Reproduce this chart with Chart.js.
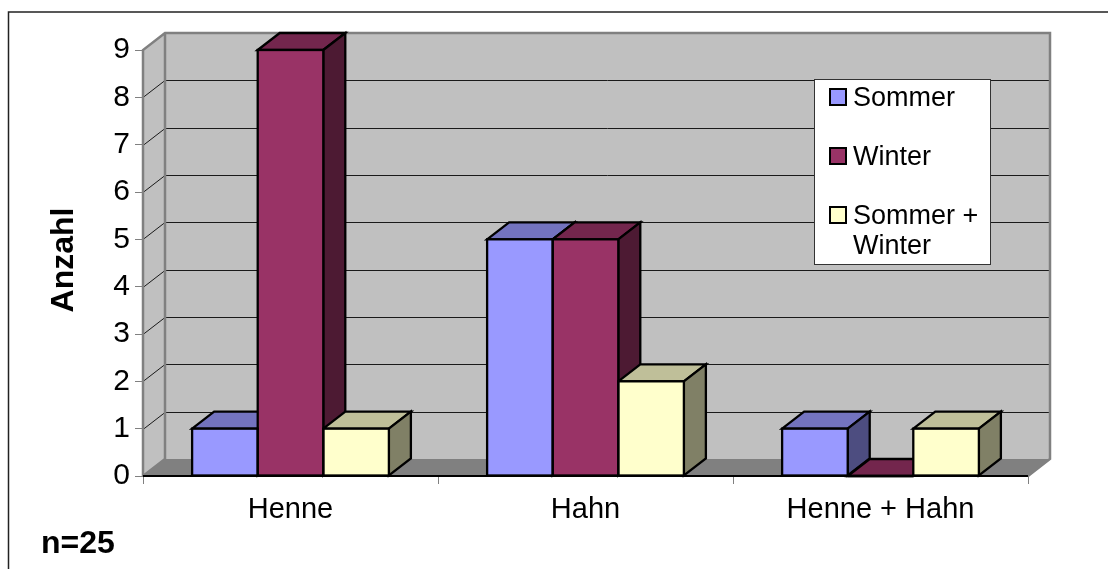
<!DOCTYPE html>
<html lang="de">
<head>
    <meta charset="UTF-8">
    <title>Anzahl Henne Hahn</title>
    <script src="https://cdn.jsdelivr.net/npm/chart.js"></script>
    <style>
        html, body { margin: 0; padding: 0; background: #fff; }
        canvas { display: block; }
    </style>
</head>
<body>
<canvas id="grafik" width="1108" height="569"></canvas>
<script>
    // Daten
    const kategorien = ['Henne', 'Hahn', 'Henne + Hahn'];
    const sommer = [1, 5, 1];
    const winter = [9, 5, 0];
    const sommerWinter = [1, 2, 1];
    const serienNamen = ['Sommer', 'Winter', 'Sommer + Winter'];
    const legendenZeilen = [['Sommer'], ['Winter'], ['Sommer +', 'Winter']];
    const yTicks = [0, 1, 2, 3, 4, 5, 6, 7, 8, 9];
    const yTitel = 'Anzahl';
    const notiz = 'n=25';

    const FONT = '"Liberation Sans", Arial, sans-serif';
    const TIEFE_X = 22, TIEFE_Y = -17;   // 3D Versatz
    const KANTE = 2.3;
    const farben = [
        { front: '#9999ff', top: '#7373bf', seite: '#4d4d80' },
        { front: '#993366', top: '#73264d', seite: '#4d1a33' },
        { front: '#ffffcc', top: '#bfbf99', seite: '#808066' }
    ];

    function flaeche(ctx, punkte, fuellung, rand, breite) {
        ctx.beginPath();
        punkte.forEach((p, i) => i ? ctx.lineTo(p[0], p[1]) : ctx.moveTo(p[0], p[1]));
        ctx.closePath();
        ctx.fillStyle = fuellung;
        ctx.fill();
        if (rand) {
            ctx.strokeStyle = rand;
            ctx.lineWidth = breite;
            ctx.lineJoin = 'miter';
            ctx.stroke();
        }
    }

    // Rahmen, Waende, Boden, Gitterlinien und Saeulenseiten
    const waende = {
        id: 'waende',
        beforeDatasetsDraw(chart) {
            const { ctx, chartArea: a, scales: { y } } = chart;
            const dx = TIEFE_X, dy = TIEFE_Y;
            ctx.save();
            ctx.strokeStyle = '#222';
            ctx.lineWidth = 1.5;
            ctx.beginPath();
            ctx.moveTo(1108, 12);
            ctx.lineTo(8.5, 12);
            ctx.lineTo(8.5, 569);
            ctx.stroke();
            flaeche(ctx, [[a.left + dx, a.top + dy], [a.right + dx, a.top + dy], [a.right + dx, a.bottom + dy], [a.left + dx, a.bottom + dy]], '#c0c0c0');
            flaeche(ctx, [[a.left, a.top], [a.left + dx, a.top + dy], [a.left + dx, a.bottom + dy], [a.left, a.bottom]], '#c0c0c0');
            flaeche(ctx, [[a.left, a.bottom], [a.left + dx, a.bottom + dy], [a.right + dx, a.bottom + dy], [a.right, a.bottom]], '#808080');
            yTicks.forEach(v => {
                if (v === 0 || v === 9) return;
                const py = Math.round(y.getPixelForValue(v)) + 0.5;
                ctx.beginPath();
                ctx.moveTo(a.left, py);
                ctx.lineTo(a.left + dx, py + dy);
                ctx.lineTo(a.right + dx, py + dy);
                ctx.strokeStyle = '#1a1a1a';
                ctx.lineWidth = 1;
                ctx.stroke();
            });
            ctx.strokeStyle = '#808080';
            ctx.lineWidth = 2.5;
            ctx.lineJoin = 'miter';
            ctx.beginPath();
            ctx.moveTo(a.left, a.bottom);
            ctx.lineTo(a.left, a.top);
            ctx.lineTo(a.left + dx, a.top + dy);
            ctx.lineTo(a.right + dx, a.top + dy);
            ctx.lineTo(a.right + dx, a.bottom + dy);
            ctx.lineTo(a.right, a.bottom);
            ctx.moveTo(a.left + dx, a.top + dy);
            ctx.lineTo(a.left + dx, a.bottom + dy);
            ctx.lineTo(a.left, a.bottom);
            ctx.stroke();

            // Oberseite und rechte Seite, von links nach rechts
            chart.getSortedVisibleDatasetMetas().forEach((meta, idx) => {
                const f = farben[idx];
                meta.data.forEach(bar => {
                    const l = bar.x - bar.width / 2, r = bar.x + bar.width / 2;
                    const t = bar.y, b = bar.base;
                    flaeche(ctx, [[l, t], [l + dx, t + dy], [r + dx, t + dy], [r, t]], f.top, '#000', KANTE);
                    flaeche(ctx, [[r, t], [r + dx, t + dy], [r + dx, b + dy], [r, b]], f.seite, '#000', KANTE);
                });
            });
            ctx.restore();
        },
        // Kante der Vorderseite, mittig auf dem Saeulenrand
        afterDatasetsDraw(chart) {
            const { ctx } = chart;
            ctx.save();
            ctx.strokeStyle = '#000';
            ctx.lineWidth = KANTE;
            chart.getSortedVisibleDatasetMetas().forEach(meta => {
                meta.data.forEach(bar => {
                    ctx.strokeRect(bar.x - bar.width / 2, bar.y, bar.width, bar.base - bar.y);
                });
            });
            ctx.restore();
        }
    };

    // Legende, Achsentitel und Notiz
    const beschriftung = {
        id: 'beschriftung',
        afterDraw(chart) {
            const { ctx } = chart;
            ctx.save();
            ctx.strokeStyle = '#000';
            ctx.lineWidth = 2;
            ctx.beginPath();
            ctx.moveTo(chart.chartArea.left, chart.chartArea.bottom);
            ctx.lineTo(chart.chartArea.right, chart.chartArea.bottom);
            ctx.stroke();

            ctx.fillStyle = '#fff';
            ctx.fillRect(814.5, 79.5, 176, 185);
            ctx.strokeStyle = '#333';
            ctx.lineWidth = 1;
            ctx.strokeRect(814.5, 79.5, 176, 185);

            ctx.font = '27px ' + FONT;
            ctx.textBaseline = 'alphabetic';
            const zeilenY = [106, 165, 224];
            legendenZeilen.forEach((zeilen, i) => {
                ctx.fillStyle = farben[i].front;
                ctx.fillRect(830, zeilenY[i] - 17, 16, 16);
                ctx.strokeStyle = '#000';
                ctx.lineWidth = 2;
                ctx.strokeRect(830, zeilenY[i] - 17, 16, 16);
                ctx.fillStyle = '#000';
                zeilen.forEach((z, k) => ctx.fillText(z, 853, zeilenY[i] + k * 30));
            });

            ctx.font = 'bold 32px ' + FONT;
            ctx.fillText(notiz, 41, 553);
            ctx.translate(73, 260);
            ctx.rotate(-Math.PI / 2);
            ctx.textAlign = 'center';
            ctx.fillText(yTitel, 0, 0);
            ctx.restore();
        }
    };

    const ctx = document.getElementById('grafik').getContext('2d');
    new Chart(ctx, {
        type: 'bar',
        data: {
            labels: kategorien,
            datasets: [
                { label: serienNamen[0], data: sommer, backgroundColor: farben[0].front },
                { label: serienNamen[1], data: winter, backgroundColor: farben[1].front },
                { label: serienNamen[2], data: sommerWinter, backgroundColor: farben[2].front }
            ].map(d => Object.assign(d, { borderWidth: 0, categoryPercentage: 0.667, barPercentage: 1 }))
        },
        options: {
            responsive: false,
            animation: false,
            layout: { padding: { left: 0, right: 80, top: 50, bottom: 24 } },
            plugins: { legend: { display: false }, tooltip: { enabled: false } },
            scales: {
                x: {
                    afterFit(s) { s.height = 69; },
                    border: { display: false },
                    grid: { drawOnChartArea: false, drawTicks: true, tickLength: 8, color: '#808080', offset: true },
                    ticks: { color: '#000', font: { family: FONT, size: 29 }, padding: 9, maxRotation: 0 }
                },
                y: {
                    min: 0,
                    max: 9,
                    afterFit(s) { s.width = 143; },
                    afterBuildTicks(s) { s.ticks = yTicks.map(v => ({ value: v })); },
                    border: { display: false },
                    grid: { drawOnChartArea: false, drawTicks: true, tickLength: 8, color: '#808080' },
                    ticks: { color: '#000', font: { family: FONT, size: 30 }, padding: 5 }
                }
            }
        },
        plugins: [waende, beschriftung]
    });
</script>
</body>
</html>
